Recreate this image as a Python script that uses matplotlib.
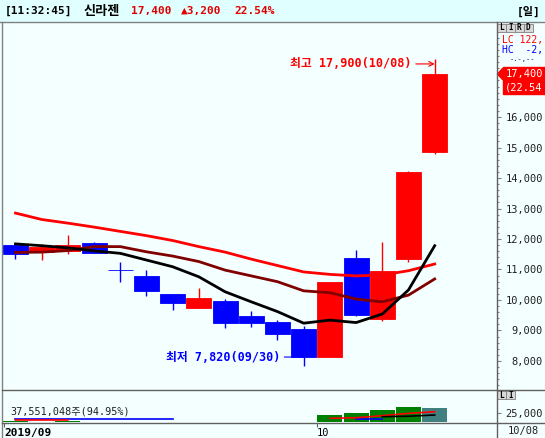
import numpy as np
import matplotlib.pyplot as plt
from matplotlib.patches import Rectangle, Polygon
from matplotlib.ticker import FixedLocator, MultipleLocator, FuncFormatter

plt.rcParams['font.family'] = ['DejaVu Sans Mono', 'Noto Sans CJK KR']

# daily candles 2019/09/11 .. 2019/10/08 (won)
opens = [11800, 11560, 11600, 11880, 10990, 10790, 10210, 9740, 9970, 9470,
         9270, 9040, 8140, 11370, 9380, 11340, 14850]
highs = [11820, 11840, 12130, 11910, 11260, 10980, 10210, 10380, 10040, 9650,
         9340, 9150, 10580, 11640, 11890, 14240, 17900]
lows = [11340, 11310, 11510, 11550, 10580, 10130, 9670, 9740, 9070, 9100,
        8690, 7820, 8140, 9490, 9310, 11260, 14800]
closes = [11500, 11750, 11800, 11550, 10980, 10300, 9900, 10060, 9260, 9260,
          8890, 8120, 10580, 9510, 10960, 14200, 17400]

# moving averages
ma_short = [11840, 11780, 11710, 11610, 11530, 11310, 11090, 10760, 10270, 9940,
            9620, 9240, 9340, 9260, 9540, 10330, 11780]
ma_mid = [11560, 11570, 11620, 11750, 11750, 11580, 11440, 11260, 10980, 10790,
          10600, 10300, 10240, 10030, 9940, 10160, 10690]
ma_long = [12850, 12640, 12520, 12390, 12250, 12110, 11950, 11750, 11570, 11340,
           11130, 10920, 10840, 10790, 10820, 10960, 11180]

# volume, thousand shares
volume = [3000, 2500, 3000, 2000, 2500, 2000, 2000, 1800, 2000, 1500,
          1500, 2500, 20500, 25000, 32900, 40800, 37551]
nan = np.nan
vol_ma_red = [6600, 6600, 6600, nan, nan, nan, nan, nan, nan, nan,
              nan, nan, 11000, 12500, 18000, 24000, 28400]
vol_ma_blue = [10000, 10000, 10000, 10000, 10000, 10000, 10000, nan, nan, nan,
               nan, nan, nan, 9000, 9000, nan, nan]
vol_ma_black = [nan] * 14 + [15200, 16500, 19700]

date_ticks = [-0.44, 11.5]
date_labels = ['2019/09', '10']

RED, BLUE = '#FF0000', '#0000FF'
W, H = 545, 438


def frac(x0, y0, x1, y1):
    return [x0 / W, 1 - y1 / H, (x1 - x0) / W, (y1 - y0) / H]


fig = plt.figure(figsize=(W / 100, H / 100), dpi=100, facecolor='#F4FFFF')

bg = fig.add_axes([0, 0, 1, 1], zorder=0)
bg.set_xlim(0, W)
bg.set_ylim(H, 0)
bg.axis('off')
bg.add_patch(Rectangle((0, 0), W, 22, color='#E0FFFF'))
hdr = dict(fontsize=8, fontweight='bold', va='center', ha='left')
bg.text(5, 11, '[11:32:45]', color='black', **hdr)
bg.text(84, 11, '신라젠', color='black', fontsize=9.5, fontweight='bold',
        va='center', ha='left')
bg.text(131, 11, '17,400', color='#E00000', **hdr)
bg.text(181, 11, '▲3,200', color='#E00000', **hdr)
bg.text(234, 11, '22.54%', color='#E00000', **hdr)
bg.text(517, 11, '[일]', color='black', **hdr)

# price panel
x = np.arange(len(closes))
o, h, l, c = map(np.array, (opens, highs, lows, closes))
col = np.where(c >= o, RED, BLUE)

ax = fig.add_axes(frac(2, 22, 497, 390), zorder=1)
ax.set_facecolor('none')
ax.set_xlim(-0.515, 18.378)
ax.set_ylim(7049, 19115)
ax.vlines(x, l, h, colors=col, lw=1, zorder=2)
ax.bar(x, np.abs(c - o), bottom=np.minimum(o, c), width=0.95,
       color=col, edgecolor=col, lw=0.6, zorder=3)
ax.plot(x, ma_long, color='#FF0000', lw=2, zorder=4)
ax.plot(x, ma_mid, color='#800000', lw=2, zorder=4)
ax.plot(x, ma_short, color='#000000', lw=2, zorder=4)

ax.annotate('최고 17,900(10/08)', xy=(16, 17740), xytext=(15.12, 17740),
            ha='right', va='center', color=RED, fontsize=8.5, fontweight='bold',
            arrowprops=dict(arrowstyle='->', color=RED, lw=0.8, shrinkA=1, shrinkB=0))
ax.annotate('최저 7,820(09/30)', xy=(11, 8130), xytext=(10.1, 8130),
            ha='right', va='center', color=BLUE, fontsize=8.5, fontweight='bold',
            arrowprops=dict(arrowstyle='-', color=BLUE, lw=0.8, shrinkA=1, shrinkB=0))

ax.set_xticks([])
ax.yaxis.tick_right()
ax.yaxis.set_major_locator(FixedLocator(range(8000, 17000, 1000)))
ax.yaxis.set_minor_locator(MultipleLocator(200))
ax.yaxis.set_major_formatter(FuncFormatter(lambda v, p: f'{int(v):,}'))
ax.tick_params(axis='y', which='major', length=3, width=0.8, color='#808080',
               pad=30, labelsize=7.5, labelcolor='#202020')
ax.tick_params(axis='y', which='minor', length=1.6, width=0.8, color='#808080')
for t in ax.get_yticklabels():
    t.set_ha('right')
for s in ax.spines.values():
    s.set_visible(False)

# volume panel
vax = fig.add_axes(frac(2, 390, 497, 423), zorder=1)
vax.set_facecolor('none')
vax.set_xlim(-0.515, 18.378)
vax.set_ylim(-1316, 85526)
vcol = ['#008000'] * (len(volume) - 1) + ['#408080']
vax.bar(x, volume, width=0.95, color=vcol, zorder=2)
vax.plot(x, vol_ma_blue, color=BLUE, lw=1.2, zorder=3)
vax.plot(x, vol_ma_red, color=RED, lw=1.2, zorder=3)
vax.plot(x, vol_ma_black, color='black', lw=1.2, zorder=3)
vax.yaxis.tick_right()
vax.set_yticks([25000])
vax.set_yticklabels(['25,000'])
vax.tick_params(axis='y', length=3, width=0.8, color='#808080', pad=30,
                labelsize=7.5, labelcolor='#202020')
for t in vax.get_yticklabels():
    t.set_ha('right')
vax.set_xticks(date_ticks)
vax.set_xticklabels(date_labels)
vax.tick_params(axis='x', length=3, width=0.8, color='#606060', pad=0.5,
                labelsize=7.5, labelcolor='black')
for t in vax.get_xticklabels():
    t.set_ha('left')
vax.get_xticklabels()[0].set_fontweight('bold')
vax.get_xticklabels()[0].set_fontsize(8)
for s in vax.spines.values():
    s.set_visible(False)
vax.text(0.017, 0.36, '37,551,048주(94.95%)', transform=vax.transAxes,
         fontsize=7.3, va='center', ha='left', color='#202020', zorder=4)

# frame and right-panel overlays
top = fig.add_axes([0, 0, 1, 1], zorder=5)
top.set_xlim(0, W)
top.set_ylim(H, 0)
top.axis('off')
fc = '#808080'
top.plot([0, W], [22, 22], color=fc, lw=1)
top.plot([2, 2], [22, H], color=fc, lw=1)
top.plot([497, 497], [22, H], color='#606060', lw=1)
top.plot([2, W], [390, 390], color='#606060', lw=1)
top.plot([2, W], [423, 423], color='#606060', lw=1)

top.add_patch(Polygon([(497.5, 74), (503, 68), (503, 80)], color=RED))
top.add_patch(Rectangle((503, 67), 44, 27, color=RED))
top.text(506, 74, '17,400', color='white', fontsize=7.5, va='center', ha='left')
top.text(505, 87, '(22.54', color='white', fontsize=7.5, va='center', ha='left')

for i, ch in enumerate('LIRD'):
    top.add_patch(Rectangle((497 + 9 * i, 24), 8.5, 7.5, fc='#D8D8D8', ec='#808080', lw=0.6))
    top.text(501.2 + 9 * i, 28, ch, fontsize=5.5, fontweight='bold', ha='center', va='center')
for i, ch in enumerate('LI'):
    top.add_patch(Rectangle((497 + 9 * i, 391), 8.5, 7.5, fc='#D8D8D8', ec='#808080', lw=0.6))
    top.text(501.2 + 9 * i, 395, ch, fontsize=5.5, fontweight='bold', ha='center', va='center')
top.text(502, 40, 'LC 122,', color=RED, fontsize=7, va='center', ha='left')
top.text(502, 50, 'HC  -2,', color=BLUE, fontsize=7, va='center', ha='left')
top.text(510, 58.5, '-.-,--', color='#000080', fontsize=5, va='center', ha='left')
top.text(508, 431, '10/08', color='#202020', fontsize=7.5, va='center', ha='left')

fig.savefig('out.png', dpi=100, facecolor=fig.get_facecolor())
